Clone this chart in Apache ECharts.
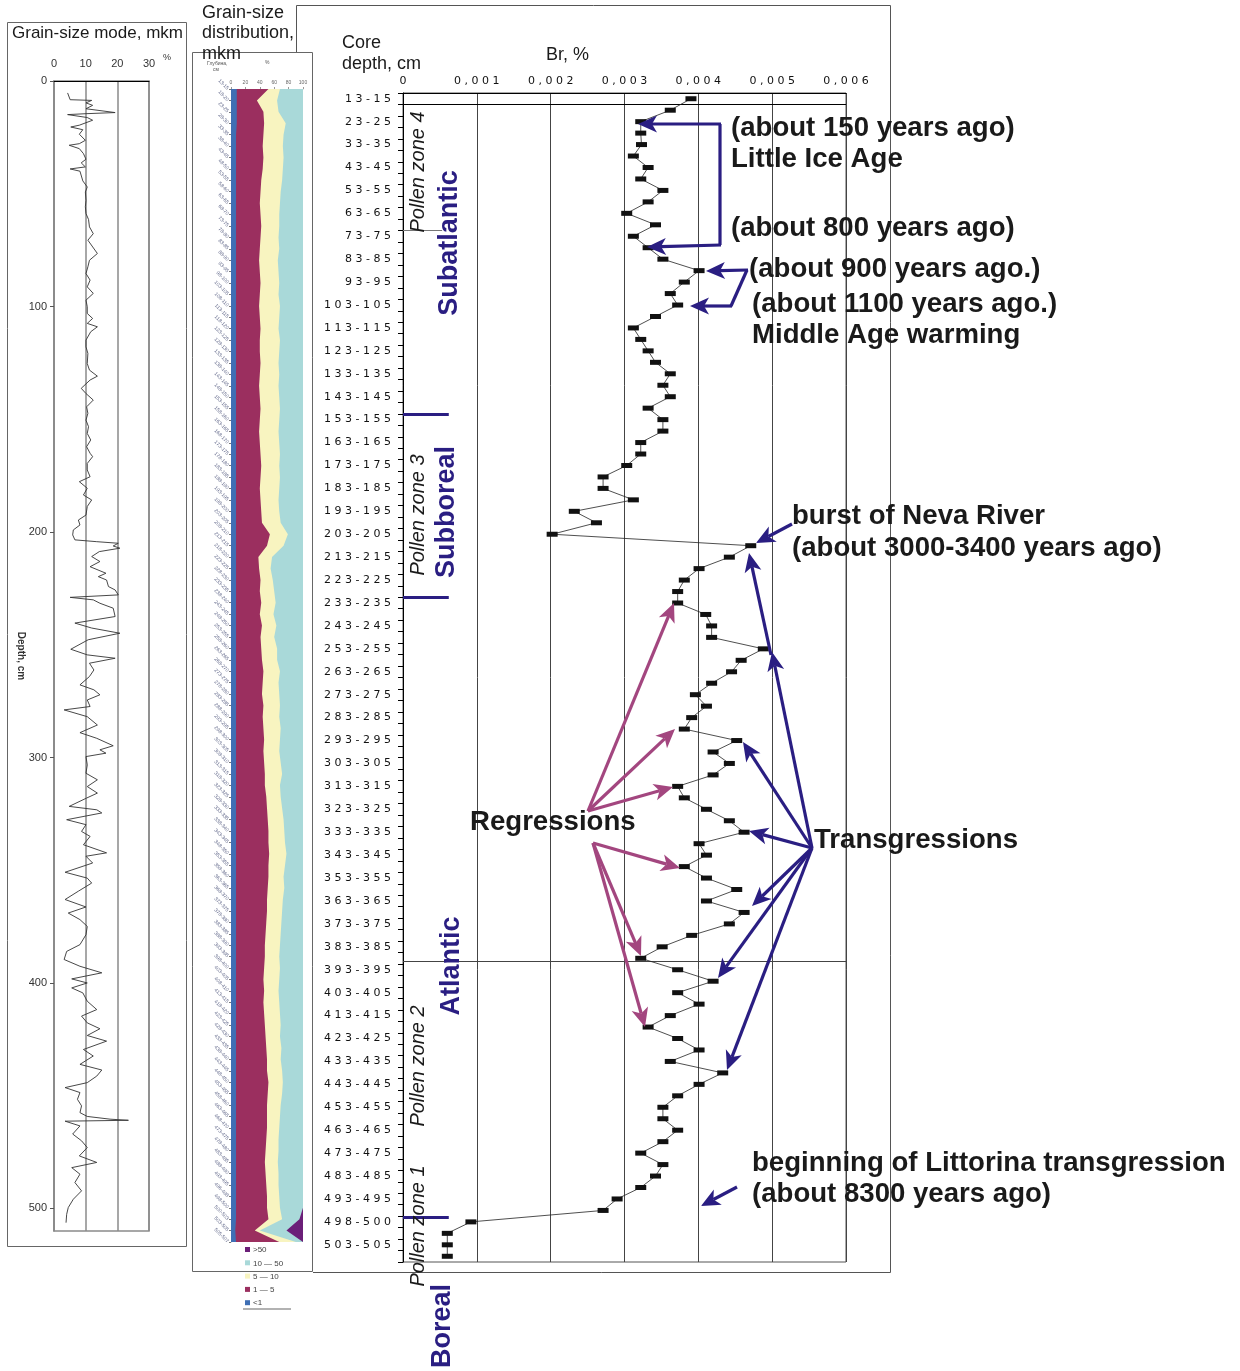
<!DOCTYPE html>
<html>
<head>
<meta charset="utf-8">
<title>Br core profile</title>
<script src="https://cdn.jsdelivr.net/npm/echarts@6/dist/echarts.min.js"></script>
<style>
html, body { margin: 0; padding: 0; background: #fff; }
#main { width: 1240px; height: 1371px; }
</style>
</head>
<body>
<div id="main"></div>
<script>
// core depth intervals (Br samples), cm
const brDepths = [
  '13-15', '18-20', '23-25', '28-30', '33-35', '38-40', '43-45', '48-50', '53-55', '58-60',
  '63-65', '68-70', '73-75', '78-80', '83-85', '88-90', '93-95', '98-100', '103-105', '108-110',
  '113-115', '118-120', '123-125', '128-130', '133-135', '138-140', '143-145', '148-150', '153-155', '158-160',
  '163-165', '168-170', '173-175', '178-180', '183-185', '188-190', '193-195', '198-200', '203-205', '208-210',
  '213-215', '218-220', '223-225', '228-230', '233-235', '238-240', '243-245', '248-250', '253-255', '258-260',
  '263-265', '268-270', '273-275', '278-280', '283-285', '288-290', '293-295', '298-300', '303-305', '308-310',
  '313-315', '318-320', '323-325', '328-330', '333-335', '338-340', '343-345', '348-350', '353-355', '358-360',
  '363-365', '368-370', '373-375', '378-380', '383-385', '388-390', '393-395', '398-400', '403-405', '408-410',
  '413-415', '418-420', '423-425', '428-430', '433-435', '438-440', '443-445', '448-450', '453-455', '458-460',
  '463-465', '468-470', '473-475', '478-480', '483-485', '488-490', '493-495', '496-498', '498-500', '500-503',
  '503-505', '505-507'
];

// Br, %
const brValues = [
  0.00390, 0.00362, 0.00322, 0.00322, 0.00323, 0.00312, 0.00332, 0.00322, 0.00352, 0.00332,
  0.00303, 0.00342, 0.00312, 0.00332, 0.00352, 0.00401, 0.00381, 0.00362, 0.00372, 0.00342,
  0.00312, 0.00322, 0.00332, 0.00342, 0.00362, 0.00352, 0.00362, 0.00332, 0.00352, 0.00352,
  0.00322, 0.00322, 0.00303, 0.00271, 0.00271, 0.00312, 0.00232, 0.00262, 0.00202, 0.00471,
  0.00442, 0.00401, 0.00381, 0.00372, 0.00372, 0.00410, 0.00418, 0.00418, 0.00488, 0.00458,
  0.00445, 0.00418, 0.00396, 0.00411, 0.00391, 0.00381, 0.00452, 0.00420, 0.00442, 0.00420,
  0.00372, 0.00381, 0.00411, 0.00442, 0.00462, 0.00401, 0.00411, 0.00381, 0.00411, 0.00452,
  0.00411, 0.00462, 0.00442, 0.00391, 0.00351, 0.00322, 0.00372, 0.00420, 0.00372, 0.00401,
  0.00362, 0.00332, 0.00372, 0.00401, 0.00362, 0.00433, 0.00401, 0.00372, 0.00352, 0.00352,
  0.00372, 0.00352, 0.00322, 0.00352, 0.00342, 0.00322, 0.00290, 0.00271, 0.00092, 0.00060,
  0.00060, 0.00060
];

// grain-size mode: depth (cm) and mode (mkm)
const modeDepth = [
  5.3, 8.3, 8.6, 9.7, 10.8, 12.3, 14.0, 14.5, 14.9, 16.2, 17.4, 19.6, 20.4, 21.6, 23.6, 26.3, 27.8, 28.5, 30.0, 32.2,
  34.7, 36.3, 38.1, 39.0, 40.0, 44.3, 47.0, 49.2, 52.9, 55.8, 58.8, 61.4, 64.7, 67.7, 70.6, 76.5, 79.5, 82.4, 85.4, 88.3,
  91.3, 94.2, 97.2, 100.1, 103.1, 105.3, 107.5, 109.0, 111.2, 114.9, 117.9, 120.8, 125.3, 128.2, 130.9, 132.6, 136.3, 138.6, 141.5, 144.5,
  147.4, 150.4, 153.3, 156.3, 159.2, 162.2, 165.1, 166.6, 169.6, 172.5, 175.5, 177.7, 180.6, 183.6, 185.8, 188.7, 192.5, 194.7, 196.9, 199.1,
  201.3, 203.5, 204.3, 205.0, 206.2, 207.2, 208.7, 210.9, 213.1, 215.4, 218.3, 219.8, 221.3, 224.2, 225.7, 227.9, 229.0, 230.1, 231.6, 233.8,
  237.5, 240.4, 242.6, 244.9, 247.8, 252.0, 254.5, 256.0, 258.2, 261.2, 264.1, 267.8, 270.0, 272.2, 274.5, 277.4, 278.9, 281.9, 285.6, 289.0,
  291.5, 294.8, 296.6, 298.1, 299.6, 303.3, 307.0, 309.9, 312.9, 315.8, 318.0, 321.7, 323.2, 324.6, 327.6, 329.8, 332.8, 335.0, 338.7, 342.3,
  343.8, 346.8, 350.9, 353.5, 355.7, 359.3, 363.0, 366.3, 369.0, 371.9, 374.9, 378.6, 383.0, 386.0, 389.6, 392.6, 395.5, 398.2, 400.0, 402.2,
  404.4, 408.1, 411.8, 414.7, 417.7, 420.3, 423.3, 425.8, 429.5, 432.4, 436.1, 438.6, 441.3, 444.2, 446.4, 448.6, 451.6, 454.5, 457.5, 459.2,
  460.4, 460.9, 461.3, 463.4, 467.0, 470.0, 473.0, 476.7, 479.6, 481.9, 484.8, 488.5, 492.2, 495.9, 499.6, 502.6, 506.3
];
const modeValue = [
  4.3, 5.1, 11.9, 10.1, 12.2, 10.1, 19.3, 10.1, 4.3, 10.5, 12.2, 8.0, 5.3, 9.1, 8.0, 9.9, 8.0, 4.8, 8.0, 9.3,
  10.1, 8.6, 9.9, 5.1, 8.2, 9.1, 10.5, 9.9, 10.1, 9.9, 10.1, 10.9, 11.2, 12.4, 10.7, 13.7, 11.2, 10.7, 10.1, 11.4,
  10.5, 12.4, 10.1, 10.5, 10.5, 12.2, 10.5, 13.7, 11.6, 10.1, 10.1, 10.7, 10.5, 11.2, 13.7, 11.4, 8.6, 10.1, 12.4, 10.3,
  10.7, 10.1, 10.9, 10.5, 11.6, 10.3, 11.4, 12.2, 10.5, 10.5, 11.4, 8.0, 10.5, 9.3, 11.9, 10.5, 10.1, 7.7, 8.2, 6.1,
  5.9, 6.6, 13.5, 20.3, 18.7, 20.8, 14.3, 11.9, 14.5, 11.4, 16.4, 14.0, 16.6, 17.2, 19.3, 20.3, 5.1, 12.4, 14.5, 18.7,
  19.3, 6.6, 11.9, 20.8, 10.8, 5.3, 10.5, 19.3, 11.2, 12.6, 11.2, 8.2, 12.6, 14.5, 10.5, 11.4, 3.2, 10.5, 13.7, 8.2,
  13.5, 18.7, 14.5, 16.4, 10.1, 10.5, 10.1, 13.7, 10.5, 13.7, 10.3, 4.8, 13.5, 15.1, 4.0, 10.1, 8.7, 11.4, 9.3, 16.6,
  10.1, 12.2, 3.5, 10.5, 11.9, 7.7, 3.5, 10.1, 4.5, 8.2, 10.5, 10.1, 8.2, 4.0, 3.2, 8.2, 15.1, 5.6, 10.5, 5.6,
  9.1, 10.5, 13.5, 8.7, 10.5, 14.5, 10.5, 16.6, 9.3, 12.4, 8.2, 15.1, 13.5, 10.5, 3.5, 8.2, 7.4, 8.7, 8.2, 10.5,
  17.7, 23.5, 3.5, 8.2, 5.9, 8.7, 10.5, 8.0, 13.5, 5.6, 8.2, 6.6, 8.7, 6.1, 4.5, 4.0, 3.8
];

// grain-size distribution, cumulative %, upper edge of each class
const cumLt1 = [
  8, 8, 8, 8, 7, 7, 7, 7, 7, 7, 7, 7, 7, 7, 7, 7, 7, 7, 7, 7,
  7, 7, 7, 7, 7, 7, 7, 7, 7, 7, 7, 7, 7, 7, 7, 7, 7, 7, 7, 7,
  7, 7, 7, 7, 7, 7, 7, 7, 7, 7, 7, 7, 7, 7, 7, 7, 7, 7, 7, 7,
  7, 7, 7, 7, 7, 7, 7, 7, 7, 7, 7, 7, 7, 7, 7, 7, 7, 7, 7, 7,
  7, 7, 7, 7, 7, 7, 7, 7, 7, 7, 7, 7, 7, 7, 7, 7, 7, 7, 7, 7,
  6, 7
];
const cum1to5 = [
  52, 36, 45, 46, 45, 44, 45, 44, 42, 41, 40, 41, 42, 41, 40, 39, 40, 41, 40, 39,
  40, 41, 40, 40, 41, 40, 39, 40, 41, 40, 39, 40, 41, 42, 41, 40, 41, 42, 43, 54,
  50, 38, 39, 41, 40, 42, 40, 43, 41, 42, 43, 45, 44, 43, 45, 44, 45, 46, 45, 46,
  47, 47, 49, 50, 51, 52, 52, 53, 52, 52, 51, 50, 50, 49, 48, 47, 47, 46, 45, 46,
  45, 46, 47, 48, 49, 50, 50, 52, 51, 50, 50, 50, 49, 48, 47, 48, 49, 50, 50, 52,
  33, 67
];
const cum5to10 = [
  68, 64, 66, 76, 73, 72, 73, 72, 71, 69, 68, 67, 67, 66, 67, 65, 66, 67, 66, 68,
  67, 66, 68, 67, 66, 67, 66, 67, 68, 67, 66, 67, 68, 67, 68, 67, 66, 67, 69, 79,
  73, 57, 55, 58, 60, 62, 59, 63, 60, 64, 64, 68, 66, 67, 68, 67, 69, 68, 67, 69,
  71, 68, 69, 71, 73, 74, 75, 77, 75, 73, 74, 72, 71, 70, 69, 68, 67, 68, 67, 66,
  67, 68, 69, 68, 70, 69, 71, 72, 71, 69, 68, 67, 66, 66, 65, 66, 66, 67, 68, 71,
  40, 90
];
const cum10to50 = [
  100, 100, 100, 100, 100, 100, 100, 100, 100, 100, 100, 100, 100, 100, 100, 100, 100, 100, 100, 100,
  100, 100, 100, 100, 100, 100, 100, 100, 100, 100, 100, 100, 100, 100, 100, 100, 100, 100, 100, 100,
  100, 100, 100, 100, 100, 100, 100, 100, 100, 100, 100, 100, 100, 100, 100, 100, 100, 100, 100, 100,
  100, 100, 100, 100, 100, 100, 100, 100, 100, 100, 100, 100, 100, 100, 100, 100, 100, 100, 100, 100,
  100, 100, 100, 100, 100, 100, 100, 100, 100, 100, 100, 100, 100, 100, 100, 100, 100, 100, 100, 95,
  77, 100
];
const sizeClasses = ['>50', '10 \u2014 50', '5 \u2014 10', '1 \u2014 5', '<1'];
const classColors = ['#6b1f78', '#a9d9d9', '#f8f4c0', '#9b2f5f', '#3f6fb4'];

const navy = '#2a1e82';
const plum = '#a3467f';
const ink = '#1a1a1a';
const spaced = s => String(s).split('').join(' ');

var chartDom = document.getElementById('main');
var myChart = echarts.init(chartDom);

function arrow(x1, y1, x2, y2, color) {
  const dx = x2 - x1, dy = y2 - y1, len = Math.hypot(dx, dy);
  const ux = dx / len, uy = dy / len, px = -uy, py = ux;
  const hl = 19, hw = 8.5, notch = 5;
  const bx = x2 - ux * hl, by = y2 - uy * hl;
  const nx = x2 - ux * (hl - notch), ny = y2 - uy * (hl - notch);
  return [
    { type: 'line', z: 100, shape: { x1: x1, y1: y1, x2: nx, y2: ny }, style: { stroke: color, lineWidth: 3.2 } },
    { type: 'polygon', z: 101, shape: { points: [[x2, y2], [bx + px * hw, by + py * hw], [nx, ny], [bx - px * hw, by - py * hw]] }, style: { fill: color } }
  ];
}

function label(text, x, y, opts) {
  return {
    type: 'text', z: 102, x: x, y: y, rotation: (opts && opts.rotation) || 0,
    style: Object.assign({
      text: text, fill: ink, fontFamily: 'Liberation Sans', fontSize: 27.6, fontWeight: 'bold',
      verticalAlign: 'middle', align: 'left'
    }, (opts && opts.style) || {})
  };
}

const zoneStyle = { fill: navy, align: 'center', fontSize: 27 };
const pollenStyle = { fontSize: 20, fontWeight: 'normal', fontStyle: 'italic', fill: ink, align: 'center' };

let graphics = [
  // frames
  { type: 'polyline', shape: { points: [[296.5, 52], [296.5, 5.5], [890.5, 5.5], [890.5, 1272.5], [313, 1272.5]] }, style: { stroke: '#555', lineWidth: 1, fill: null } },
  { type: 'rect', shape: { x: 192.5, y: 52.5, width: 120, height: 1219 }, style: { stroke: '#666', lineWidth: 1, fill: null } },
  { type: 'rect', shape: { x: 7.5, y: 22.5, width: 179, height: 1224 }, style: { stroke: '#666', lineWidth: 1, fill: null } },

  // panel titles
  label('Grain-size mode, mkm', 12, 33, { style: { fontSize: 17, fontWeight: 'normal' } }),
  label('%', 163, 58, { style: { fontSize: 9, fontWeight: 'normal', fill: '#333' } }),
  label('Depth, cm', 21, 656, { rotation: -Math.PI / 2, style: { fontSize: 10, align: 'center', fill: '#333' } }),
  label('Grain-size', 202, 13, { style: { fontSize: 18, fontWeight: 'normal' } }),
  label('distribution,', 202, 33, { style: { fontSize: 18, fontWeight: 'normal' } }),
  label('mkm', 202, 54, { style: { fontSize: 18, fontWeight: 'normal' } }),
  label('Глубина,', 207, 64, { style: { fontSize: 5, fontWeight: 'normal', fill: '#555' } }),
  label('см', 213, 70, { style: { fontSize: 5, fontWeight: 'normal', fill: '#555' } }),
  label('%', 265, 63, { style: { fontSize: 5, fontWeight: 'normal', fill: '#555' } }),
  label('Core', 342, 43, { style: { fontSize: 18, fontWeight: 'normal' } }),
  label('depth, cm', 342, 64, { style: { fontSize: 18, fontWeight: 'normal' } }),
  label('Br, %', 546, 55, { style: { fontSize: 18, fontWeight: 'normal' } }),

  // pollen zones and periods
  label('Pollen zone 4', 418, 172, { rotation: Math.PI / 2, style: pollenStyle }),
  label('Subatlantic', 450, 243, { rotation: Math.PI / 2, style: zoneStyle }),
  label('Pollen zone 3', 418, 515, { rotation: Math.PI / 2, style: pollenStyle }),
  label('Subboreal', 447, 512, { rotation: Math.PI / 2, style: zoneStyle }),
  label('Atlantic', 452, 966, { rotation: Math.PI / 2, style: zoneStyle }),
  label('Pollen zone 2', 418, 1066, { rotation: Math.PI / 2, style: pollenStyle }),
  label('Pollen zone 1', 418, 1226, { rotation: Math.PI / 2, style: pollenStyle }),
  label('Boreal', 443, 1326, { rotation: Math.PI / 2, style: zoneStyle }),

  // annotations
  label('(about 150 years ago)', 731, 128),
  label('Little Ice Age', 731, 159),
  label('(about 800 years ago)', 731, 228),
  label('(about 900 years ago.)', 749, 269),
  label('(about 1100 years ago.)', 752, 304),
  label('Middle Age warming', 752, 335),
  label('burst of Neva River', 792, 516),
  label('(about 3000-3400 years ago)', 792, 548),
  label('Regressions', 470, 822),
  label('Transgressions', 814, 840),
  label('beginning of Littorina transgression', 752, 1163),
  label('(about 8300 years ago)', 752, 1194),

  // brackets
  { type: 'polyline', z: 100, shape: { points: [[720, 124], [720, 245]] }, style: { stroke: navy, lineWidth: 3.2, fill: null } },
  { type: 'polyline', z: 100, shape: { points: [[747, 270], [731, 306]] }, style: { stroke: navy, lineWidth: 3.2, fill: null } }
];

const arrows = [
  [721, 124, 638, 124, navy], [721, 245, 647, 247, navy],
  [748, 270, 706, 271, navy], [732, 306, 690, 306, navy],
  [792, 524, 756, 543, navy],
  [812, 848, 772, 652, navy], [771, 655, 749, 553, navy],
  [812, 848, 743, 742, navy], [812, 848, 749, 831, navy], [812, 848, 752, 906, navy],
  [812, 848, 718, 978, navy], [812, 848, 727, 1070, navy],
  [737, 1187, 701, 1206, navy],
  [588, 811, 674, 603, plum], [588, 811, 675, 729, plum], [588, 811, 673, 787, plum],
  [593, 843, 680, 868, plum], [593, 843, 641, 956, plum], [593, 843, 645, 1027, plum]
];
arrows.forEach(a => { graphics = graphics.concat(arrow(a[0], a[1], a[2], a[3], a[4])); });

// legend of the grain-size distribution
sizeClasses.forEach((name, i) => {
  const y = 1250 + i * 13.3;
  graphics.push({ type: 'rect', z: 100, shape: { x: 245, y: y - 3, width: 5, height: 5 }, style: { fill: classColors[i] } });
  graphics.push(label(name, 253, y, { style: { fontSize: 8, fontWeight: 'normal', fill: '#444' } }));
});
graphics.push({ type: 'line', z: 100, shape: { x1: 243, y1: 1309, x2: 291, y2: 1309 }, style: { stroke: '#999', lineWidth: 1.5 } });

const narrow = '"Liberation Sans Narrow", "Liberation Sans", sans-serif';

function areaSeries(name, data, color) {
  return {
    name: name, type: 'line', xAxisIndex: 1, yAxisIndex: 1, data: data,
    showSymbol: false, silent: true,
    lineStyle: { width: 0 },
    areaStyle: { color: color, opacity: 1 }
  };
}

const hLine = (y, x1, x2, color, width) => [
  { coord: [x1, y], lineStyle: { color: color, width: width, type: 'solid' } },
  { coord: [x2, y] }
];

var option = {
  animation: false,
  backgroundColor: '#fff',
  grid: [
    { left: 54, top: 81, width: 95, height: 1150, show: true, borderColor: '#8a8a8a', borderWidth: 1.5 },
    { left: 231, top: 89, width: 72, height: 1153, show: true, backgroundColor: classColors[0], borderWidth: 0 },
    { left: 403, top: 93, width: 443, height: 1169, show: true, borderColor: '#555', borderWidth: 1 }
  ],
  xAxis: [
    {
      gridIndex: 0, type: 'value', position: 'top', min: 0, max: 30, interval: 10,
      axisLine: { show: true, onZero: false, lineStyle: { color: '#000', width: 1 } },
      axisTick: { show: false },
      axisLabel: { margin: 12, fontSize: 11, fontFamily: narrow, color: '#333' },
      splitLine: { show: true, lineStyle: { color: '#8a8a8a', width: 1.5 } }
    },
    {
      gridIndex: 1, type: 'value', position: 'top', min: 0, max: 100, interval: 20,
      axisLine: { show: true, onZero: false, lineStyle: { color: '#999', width: 0.5 } },
      axisTick: { show: true, length: 2, lineStyle: { color: '#999' } },
      axisLabel: { margin: 4, fontSize: 5, color: '#666' },
      splitLine: { show: false }
    },
    {
      gridIndex: 2, type: 'value', position: 'top', min: 0, max: 0.006, interval: 0.001,
      axisLine: { show: true, onZero: false, lineStyle: { color: '#000', width: 1 } },
      axisTick: { show: false },
      axisLabel: {
        margin: 6, fontSize: 11, fontFamily: 'DejaVu Sans', color: '#111',
        formatter: v => spaced(v === 0 ? '0' : v.toFixed(3).replace('.', ','))
      },
      splitLine: { show: true, lineStyle: { color: '#444', width: 1 } }
    }
  ],
  yAxis: [
    {
      gridIndex: 0, type: 'value', inverse: true, min: 0, max: 510, interval: 100,
      axisLine: { show: true, onZero: false, lineStyle: { color: '#8a8a8a', width: 1.5 } },
      axisTick: { show: true, length: 4, lineStyle: { color: '#555' } },
      axisLabel: { margin: 7, fontSize: 11, fontFamily: narrow, color: '#333', showMaxLabel: false },
      splitLine: { show: false }
    },
    {
      gridIndex: 1, type: 'category', inverse: true, data: brDepths, boundaryGap: false,
      axisLine: { show: true, onZero: false, lineStyle: { color: '#777', width: 0.5 } },
      axisTick: { show: true, length: 2, interval: 0, lineStyle: { color: '#777' } },
      axisLabel: { interval: 0, fontSize: 5, rotate: -45, color: '#6a7090', margin: 3 }
    },
    {
      gridIndex: 2, type: 'category', inverse: true, data: brDepths,
      axisLine: { show: true, onZero: false, lineStyle: { color: '#000', width: 1 } },
      axisTick: { show: true, length: 5, interval: 0, lineStyle: { color: '#000' } },
      axisLabel: { interval: 1, margin: 12, fontSize: 11, fontFamily: 'DejaVu Sans', color: '#111', formatter: spaced }
    },
    { gridIndex: 2, type: 'value', inverse: true, min: -0.5, max: 101.5, show: false }
  ],
  series: [
    {
      name: 'Grain-size mode', type: 'line', xAxisIndex: 0, yAxisIndex: 0,
      data: modeDepth.map((d, i) => [modeValue[i], d]),
      showSymbol: false, lineStyle: { color: '#333', width: 0.9 }
    },
    areaSeries('10 - 50', cum10to50, classColors[1]),
    areaSeries('5 - 10', cum5to10, classColors[2]),
    areaSeries('1 - 5', cum1to5, classColors[3]),
    areaSeries('<1', cumLt1, classColors[4]),
    {
      name: 'Br', type: 'line', xAxisIndex: 2, yAxisIndex: 2, data: brValues, z: 5,
      symbol: 'rect', symbolSize: [11, 5], showAllSymbol: true,
      itemStyle: { color: '#111' },
      lineStyle: { color: '#222', width: 0.8 }
    },
    {
      name: 'zones', type: 'line', xAxisIndex: 2, yAxisIndex: 3, data: [],
      markLine: {
        silent: true, symbol: ['none', 'none'], label: { show: false },
        lineStyle: { type: 'solid', color: '#333', width: 1 },
        data: [
          hLine(0.5, 0, 0.006, '#000', 1),
          hLine(75.3, 0, 0.006, '#444', 1),
          hLine(92.5, -0.00008, 0.006, '#444', 1),
          hLine(11.5, 0, 0.00053, '#777', 1),
          hLine(27.5, 0, 0.00062, navy, 3),
          hLine(43.5, 0, 0.00062, navy, 3),
          hLine(97.6, 0, 0.00062, navy, 3)
        ]
      }
    }
  ],
  graphic: graphics
};

option && myChart.setOption(option);
</script>
</body>
</html>
